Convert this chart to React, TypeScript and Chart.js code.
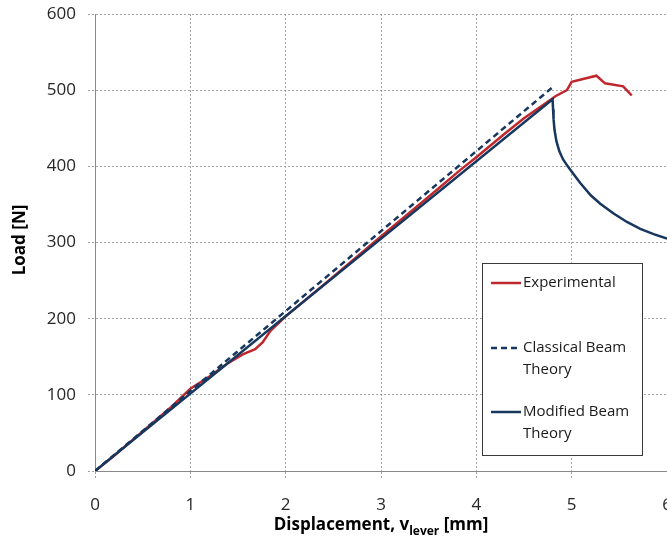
import { useEffect, useRef } from "react";
import { Chart, registerables } from "chart.js";

Chart.register(...registerables);

// ---- data ----
const xTickValues = [0, 1, 2, 3, 4, 5, 6];
const yTickValues = [0, 100, 200, 300, 400, 500, 600];

const seriesLabels = ["Experimental", "Classical Beam Theory", "Modified Beam Theory"];
const seriesColors = ["#C0272D", "#17375E", "#17375E"];

const experimentalX = [0, 0.2, 0.5, 0.8, 1.0, 1.2, 1.4, 1.55, 1.68, 1.76, 1.84, 2.0, 2.5, 3.0, 3.5, 3.83, 4.0, 4.3, 4.5, 4.67, 4.83, 4.95, 5.0, 5.26, 5.35, 5.54, 5.63];
const experimentalY = [0, 20, 52, 84, 108, 124, 142, 153, 160, 169, 184, 203, 255, 308, 360, 395, 412, 443, 463, 478, 492, 500, 511, 519, 509, 505, 493];

const classicalX = [0, 4.82];
const classicalY = [0, 506];

const modifiedX = [0, 4.8, 4.805, 4.81, 4.82, 4.84, 4.87, 4.91, 4.97, 5.09, 5.2, 5.3, 5.44, 5.58, 5.72, 5.86, 6.0];
const modifiedY = [0, 488, 475, 462, 448, 433, 420, 409, 398, 378, 362, 351, 338, 327, 318, 311, 305];

const FONT = "'Open Sans', 'DejaVu Sans', sans-serif";

function toPoints(xs: number[], ys: number[]) {
  return xs.map((x, i) => ({ x, y: ys[i] }));
}

function wrapText(ctx: CanvasRenderingContext2D, text: string, maxW: number): string[] {
  const words = text.split(" ");
  const lines: string[] = [];
  let cur = "";
  for (const w of words) {
    const test = cur ? cur + " " + w : w;
    if (ctx.measureText(test).width > maxW && cur) {
      lines.push(cur);
      cur = w;
    } else cur = test;
  }
  if (cur) lines.push(cur);
  return lines;
}

const overlayPlugin = {
  id: "overlay",
  afterDraw(chart: any) {
    const ctx: CanvasRenderingContext2D = chart.ctx;
    const area = chart.chartArea;
    ctx.save();

    // Y axis title
    ctx.fillStyle = "#000";
    ctx.font = `bold 17px ${FONT}`;
    ctx.textAlign = "center";
    ctx.textBaseline = "middle";
    ctx.save();
    ctx.translate(20, 240);
    ctx.rotate(-Math.PI / 2);
    ctx.fillText("Load [N]", 0, 0);
    ctx.restore();

    // X axis title with subscript
    const main1 = "Displacement, v";
    const sub = "lever";
    const main2 = " [mm]";
    const bigFont = `bold 17px ${FONT}`;
    const smallFont = `bold 12px ${FONT}`;
    ctx.font = bigFont;
    const w1 = ctx.measureText(main1).width;
    const w3 = ctx.measureText(main2).width;
    ctx.font = smallFont;
    const w2 = ctx.measureText(sub).width;
    const total = w1 + w2 + w3;
    const cx = (area.left + 667) / 2;
    let x = cx - total / 2;
    const base = 530;
    ctx.textAlign = "left";
    ctx.textBaseline = "alphabetic";
    ctx.font = bigFont;
    ctx.fillText(main1, x, base);
    x += w1;
    ctx.font = smallFont;
    ctx.fillText(sub, x, base + 5);
    x += w2;
    ctx.font = bigFont;
    ctx.fillText(main2, x, base);

    // Legend box
    const bx = 482, by = 263, bw = 160, bh = 192;
    ctx.fillStyle = "#fff";
    ctx.fillRect(bx, by, bw, bh);
    ctx.strokeStyle = "#3a3a3a";
    ctx.lineWidth = 1;
    ctx.strokeRect(bx + 0.5, by + 0.5, bw, bh);

    const rowY = [283, 348, 412];
    const lineH = 22;
    ctx.font = `15px ${FONT}`;
    chart.data.datasets.forEach((ds: any, i: number) => {
      const y = rowY[i];
      ctx.save();
      ctx.strokeStyle = ds.borderColor;
      ctx.lineWidth = ds.borderWidth;
      ctx.setLineDash(ds.borderDash || []);
      ctx.beginPath();
      ctx.moveTo(491, y);
      ctx.lineTo(521, y);
      ctx.stroke();
      ctx.restore();
      ctx.fillStyle = "#1a1a1a";
      ctx.textAlign = "left";
      ctx.textBaseline = "middle";
      const lines = wrapText(ctx, ds.label, 116);
      lines.forEach((ln, k) => ctx.fillText(ln, 523, y + k * lineH));
    });

    ctx.restore();
  },
};

export default function App() {
  const ref = useRef<HTMLCanvasElement | null>(null);

  useEffect(() => {
    if (!ref.current) return;
    const chart = new Chart(ref.current, {
      type: "line",
      data: {
        datasets: [
          {
            label: seriesLabels[0],
            data: toPoints(experimentalX, experimentalY),
            borderColor: seriesColors[0],
            borderWidth: 2.5,
            pointRadius: 0,
            tension: 0,
            fill: false,
            order: 2,
          },
          {
            label: seriesLabels[1],
            data: toPoints(classicalX, classicalY),
            borderColor: seriesColors[1],
            borderWidth: 2.5,
            borderDash: [6, 4],
            pointRadius: 0,
            tension: 0,
            fill: false,
            order: 1,
          },
          {
            label: seriesLabels[2],
            data: toPoints(modifiedX, modifiedY),
            borderColor: seriesColors[2],
            borderWidth: 2.5,
            pointRadius: 0,
            tension: 0,
            fill: false,
            order: 0,
          },
        ],
      },
      options: {
        animation: false,
        responsive: false,
        devicePixelRatio: 1,
        layout: { padding: { left: 0, right: 50, top: 14, bottom: 0 } },
        plugins: { legend: { display: false }, tooltip: { enabled: false } },
        scales: {
          x: {
            type: "linear",
            min: 0,
            max: 6,
            afterFit: (s: any) => {
              s.height = 79;
              s.paddingLeft = 0;
              s.paddingRight = 0;
            },
            afterBuildTicks: (s: any) => {
              s.ticks = xTickValues.map((v) => ({ value: v }));
            },
            ticks: {
              color: "#262626",
              font: { family: FONT, size: 17 },
              padding: 16,
              maxRotation: 0,
            },
            grid: {
              color: "#a6a6a6",
              lineWidth: 1,
              tickLength: 8,
              tickColor: "#a0a0a0",
              tickBorderDash: [2, 2],
            },
            border: { color: "#8a8a8a", width: 1, dash: [2, 2] },
          },
          y: {
            type: "linear",
            min: 0,
            max: 600,
            afterFit: (s: any) => {
              s.width = 95;
              s.paddingTop = 0;
              s.paddingBottom = 0;
            },
            afterBuildTicks: (s: any) => {
              s.ticks = yTickValues.map((v) => ({ value: v }));
            },
            ticks: {
              color: "#262626",
              font: { family: FONT, size: 17 },
              padding: 12,
            },
            grid: {
              color: "#a6a6a6",
              lineWidth: 1,
              tickLength: 7,
              tickColor: "#a0a0a0",
              tickBorderDash: [2, 2],
            },
            border: { color: "#8a8a8a", width: 1, dash: [2, 2] },
          },
        },
      },
      plugins: [overlayPlugin],
    } as any);
    return () => chart.destroy();
  }, []);

  return (
    <div
      style={{
        position: "fixed",
        left: 0,
        top: 0,
        width: 667,
        height: 550,
        overflow: "hidden",
        background: "#fff",
      }}
    >
      <canvas ref={ref} width={717} height={550} style={{ display: "block", width: 717, height: 550 }} />
    </div>
  );
}
